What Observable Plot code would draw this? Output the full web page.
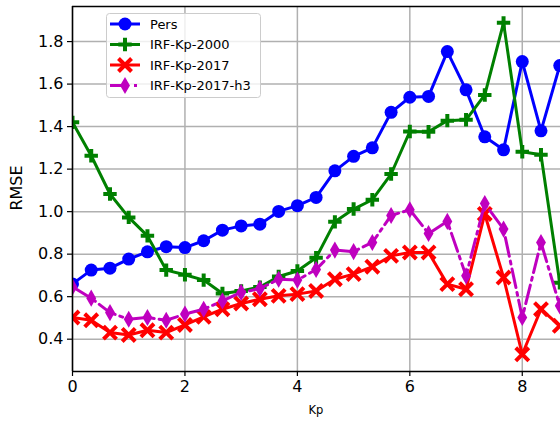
<!DOCTYPE html>
<html>
<head>
<meta charset="utf-8">
<script src="https://cdn.jsdelivr.net/npm/d3@7"></script>
<script src="https://cdn.jsdelivr.net/npm/@observablehq/plot@0.6"></script>
<style>
  html, body { margin: 0; padding: 0; background: #fff; overflow: hidden; }
  #wrap { position: relative; width: 560px; height: 422px; font-family: "DejaVu Sans", sans-serif; }
  #legend { position: absolute; left: 106px; top: 13px; }
</style>
</head>
<body>
<div id="wrap"></div>
<script>
const kp = [0, 0.333, 0.667, 1, 1.333, 1.667, 2, 2.333, 2.667, 3, 3.333, 3.667, 4, 4.333, 4.667, 5, 5.333, 5.667, 6, 6.333, 6.667, 7, 7.333, 7.667, 8, 8.333, 8.667];
const pers = [0.66, 0.725, 0.734, 0.777, 0.811, 0.835, 0.831, 0.863, 0.913, 0.933, 0.941, 1.001, 1.028, 1.067, 1.192, 1.26, 1.30, 1.467, 1.538, 1.542, 1.753, 1.573, 1.352, 1.291, 1.706, 1.380, 1.687];
const irf2000 = [1.42, 1.263, 1.083, 0.973, 0.886, 0.725, 0.703, 0.678, 0.615, 0.627, 0.645, 0.695, 0.721, 0.783, 0.952, 1.012, 1.056, 1.177, 1.377, 1.376, 1.428, 1.432, 1.549, 1.888, 1.282, 1.268, 0.665];
const irf2017 = [0.502, 0.489, 0.431, 0.42, 0.442, 0.431, 0.467, 0.505, 0.541, 0.568, 0.588, 0.604, 0.612, 0.627, 0.682, 0.706, 0.741, 0.792, 0.808, 0.808, 0.659, 0.635, 0.989, 0.69, 0.329, 0.541, 0.463];
const irf2017h3 = [0.646, 0.593, 0.525, 0.494, 0.502, 0.489, 0.518, 0.541, 0.58, 0.62, 0.638, 0.682, 0.678, 0.728, 0.819, 0.812, 0.855, 0.982, 1.009, 0.897, 0.954, 0.698, 1.038, 0.918, 0.502, 0.855, 0.557];

const seriesNames = ["Pers", "IRF-Kp-2000", "IRF-Kp-2017", "IRF-Kp-2017-h3"];
const seriesValues = [pers, irf2000, irf2017, irf2017h3];
const colors = ["#0000ff", "#008000", "#ff0000", "#bf00bf"];
const xTicks = [0, 2, 4, 6, 8];
const yTicks = [0.4, 0.6, 0.8, 1.0, 1.2, 1.4, 1.6, 1.8];
const xDomain = [0, 8.68];
const yDomain = [0.248, 1.965];

// marker styles
const styles = [
  {symbol: "circle", r: 6.5, fill: true, sw: 0, dash: null},
  {symbol: "plus", r: 4.4, fill: false, sw: 4, dash: null},
  {symbol: "times", r: 6.0, fill: false, sw: 4, dash: null},
  {symbol: "diamond", r: 5.2, fill: true, sw: 0, dash: "19,5,3,5"}
];

const rows = [];
seriesNames.forEach((name, i) => {
  seriesValues[i].forEach((v, j) => rows.push({series: name, idx: i, kp: kp[j], v}));
});

const marks = [
  Plot.gridX(xTicks, {stroke: "#b0b0b0", strokeOpacity: 1, strokeWidth: 1.5}),
  Plot.gridY(yTicks, {stroke: "#b0b0b0", strokeOpacity: 1, strokeWidth: 1.5}),
];
seriesNames.forEach((name, i) => {
  const data = rows.filter(d => d.idx === i);
  const st = styles[i];
  marks.push(Plot.line(data, {x: "kp", y: "v", stroke: colors[i], strokeWidth: 3, strokeDasharray: st.dash, clip: true}));
  marks.push(Plot.dot(data, {
    x: "kp", y: "v", symbol: () => st.symbol, r: st.r,
    fill: st.fill ? colors[i] : "none",
    stroke: st.fill ? "none" : colors[i],
    strokeWidth: st.sw, clip: true
  }));
});
marks.push(
  Plot.ruleX([xDomain[0]], {stroke: "black", strokeWidth: 1.5}),
  Plot.ruleY([yDomain[0]], {stroke: "black", strokeWidth: 1.5}),
  Plot.ruleY([yDomain[1]], {stroke: "black", strokeWidth: 1.5}),
  Plot.axisX(xTicks, {tickSize: 5, tickPadding: 4, fontSize: 16, label: null, stroke: "black", strokeWidth: 1.2, fill: "black"}),
  Plot.axisY(yTicks, {tickSize: 5, tickPadding: 4, fontSize: 16, label: null, stroke: "black", strokeWidth: 1.2, fill: "black", tickFormat: d3.format(".1f")})
);

const chart = Plot.plot({
  width: 560,
  height: 422,
  marginLeft: 72,
  marginRight: 0,
  marginTop: 6,
  marginBottom: 51,
  style: {fontFamily: "DejaVu Sans, sans-serif", background: "white", overflow: "hidden"},
  x: {domain: xDomain},
  y: {domain: yDomain},
  symbol: {type: "identity"},
  marks
});

// axis titles
const svg = d3.select(chart);
svg.append("text").attr("x", 316).attr("y", 414).attr("text-anchor", "middle")
  .attr("font-size", 11.5).attr("font-family", "DejaVu Sans, sans-serif").attr("fill", "black").text("Kp");
svg.append("text").attr("transform", "translate(22,188) rotate(-90)").attr("text-anchor", "middle")
  .attr("font-size", 16).attr("font-family", "DejaVu Sans, sans-serif").attr("fill", "black").text("RMSE");

const wrap = document.getElementById("wrap");
wrap.appendChild(chart);

// legend
const lw = 155, lh = 85;
const leg = d3.select(wrap).append("svg").attr("id", "legend").attr("width", lw).attr("height", lh);
leg.append("rect").attr("x", 0.5).attr("y", 0.5).attr("width", lw - 1).attr("height", lh - 1)
  .attr("rx", 3).attr("fill", "rgba(255,255,255,0.8)").attr("stroke", "#cccccc").attr("stroke-width", 1);
const symMap = {circle: d3.symbolCircle, plus: d3.symbolPlus, times: d3.symbolTimes, diamond: d3.symbolDiamond};
seriesNames.forEach((name, i) => {
  const y = 11 + i * 20.5;
  const st = styles[i];
  leg.append("line").attr("x1", 4).attr("x2", 34).attr("y1", y).attr("y2", y)
    .attr("stroke", colors[i]).attr("stroke-width", 3).attr("stroke-dasharray", st.dash);
  leg.append("path").attr("transform", `translate(19,${y})`)
    .attr("d", d3.symbol(symMap[st.symbol], st.r * st.r * Math.PI)())
    .attr("fill", st.fill ? colors[i] : "none")
    .attr("stroke", st.fill ? "none" : colors[i])
    .attr("stroke-width", st.sw);
  leg.append("text").attr("x", 44).attr("y", y).attr("dy", "0.35em")
    .attr("font-size", 13).attr("font-family", "DejaVu Sans, sans-serif").attr("fill", "black").text(name);
});
</script>
</body>
</html>
